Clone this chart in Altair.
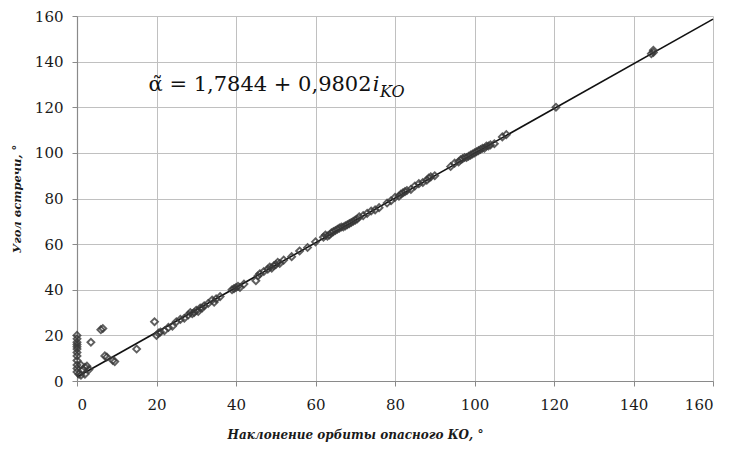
import altair as alt
import pandas as pd

# Inclination of the hazardous object's orbit, degrees
incl = [
    0, 0, 0, 0, 0, 0, 0, 0, 0, 0, 0, 0, 0.5, 1, 1.5, 2, 2.5, 3, 1, 2,
    3.5, 6.5, 6, 7, 7.5, 9, 9.5, 15,
    19.5, 20, 20.5, 21, 22, 23, 24, 25, 26, 27, 28, 28.5, 29, 29.5, 30, 30.5,
    31, 31.5, 32, 33, 34, 34.5, 35, 36,
    39, 39.5, 40, 40.5, 41, 42,
    45, 45.5, 46, 47, 48, 48.5, 49, 49.5, 50, 50.5, 51, 52, 54, 56, 58, 60,
    62, 62.5, 63, 63.5, 64, 64.5, 65, 65.5, 66, 66.5, 67, 67.5, 68, 68.5,
    69, 69.5, 70, 70.5, 71, 72, 73, 74, 75, 76,
    78, 79, 80, 81, 81.5, 82, 82.5, 83, 84, 85, 86, 87, 88, 88.5, 89, 90,
    94, 95, 96, 96.5, 97, 97.5, 98, 98.5, 99, 99.5, 100, 100.5, 101, 101.5,
    102, 102.5, 103, 103.5, 104, 105,
    107, 108, 120.5, 144.5, 145, 145,
]
# Encounter angle, degrees
angle = [
    20, 18.5, 17, 16, 15, 14, 12.5, 11, 9, 7, 5.5, 4, 3, 2.5, 5, 6, 6.5, 5, 7, 3,
    17, 23, 22.5, 11, 10.5, 9, 8.5, 14,
    26, 20, 21, 21.5, 22, 23.5, 24, 26, 27, 27.5, 29, 30, 29.5, 30, 31, 30.5,
    32, 32, 33, 34, 35.5, 34.5, 36, 37,
    40, 40.5, 41, 41.5, 41, 42.5,
    44, 46, 47, 48, 49, 50, 49.5, 50.5, 51, 52, 51.5, 53, 54.5, 57, 58.5, 61,
    63, 64, 63.5, 64, 65, 65.5, 66, 66.5, 67, 67.5, 67.5, 68, 68.5, 69,
    69.5, 70, 70.5, 71, 72, 72.5, 73.5, 74.5, 75, 76,
    78, 79, 80.5, 81, 82, 82.5, 83, 83.5, 84, 85.5, 86.5, 87, 88, 89, 89.5, 90,
    94, 95.5, 96, 97, 97.5, 98, 98, 98.5, 99, 99.5, 100, 100.5, 101, 101.5,
    102, 102, 103, 103, 103.5, 104,
    107, 108, 120, 143.5, 144, 145,
]

# Fitted regression coefficients
intercept = 1.7844
slope = 0.9802
fit_x = [0, 160]

ticks = [0, 20, 40, 60, 80, 100, 120, 140, 160]

points = pd.DataFrame({"i": incl, "a": angle})
fit = pd.DataFrame({"i": fit_x, "a": [intercept + slope * v for v in fit_x]})

SERIF = "DejaVu Serif"

x_enc = alt.X(
    "i:Q",
    scale=alt.Scale(domain=[0, 160], nice=False, zero=False),
    axis=alt.Axis(values=ticks, title="Наклонение орбиты опасного КО, °",
                  titleX=278, titleAlign="center"),
)
y_enc = alt.Y(
    "a:Q",
    scale=alt.Scale(domain=[0, 160], nice=False, zero=False),
    axis=alt.Axis(values=ticks, title="Угол встречи, °"),
)

dots = alt.Chart(points).mark_point(
    shape="diamond", filled=False, color="#383838", size=48, strokeWidth=1.9, opacity=0.8
).encode(x=x_enc, y=y_enc)

line = alt.Chart(fit).mark_line(color="#111111", strokeWidth=1.6).encode(
    x="i:Q", y="a:Q"
)

# Regression equation label, placed in data coordinates
eq_y = 127
eq_main = alt.Chart(pd.DataFrame({
    "i": [18.0], "a": [eq_y], "t": ["α\u0303 = 1,7844 + 0,9802"],
})).mark_text(
    font=SERIF, fontSize=21, align="left", baseline="alphabetic", color="#111111"
).encode(x="i:Q", y="a:Q", text="t:N")
eq_i = alt.Chart(pd.DataFrame({"i": [74.4], "a": [eq_y], "t": ["i"]})).mark_text(
    font=SERIF, fontSize=21, fontStyle="italic", align="left",
    baseline="alphabetic", color="#111111"
).encode(x="i:Q", y="a:Q", text="t:N")
eq_sub = alt.Chart(pd.DataFrame({"i": [76.2], "a": [eq_y - 2.6], "t": ["KO"]})).mark_text(
    font=SERIF, fontSize=16, fontStyle="italic", align="left",
    baseline="alphabetic", color="#111111"
).encode(x="i:Q", y="a:Q", text="t:N")

chart = (
    alt.layer(line, dots, eq_main, eq_i, eq_sub)
    .properties(
        width=636,
        height=365,
        autosize=alt.AutoSizeParams(type="none"),
        padding={"left": 77, "top": 16, "right": 16, "bottom": 74},
        background="white",
    )
    .configure_view(stroke=None)
    .configure_axis(
        grid=True,
        gridColor="#c0c0c0",
        gridWidth=1,
        domainColor="#8a8a8a",
        domainWidth=1.2,
        tickColor="#8a8a8a",
        tickSize=5,
        labelFont=SERIF,
        labelFontSize=15,
        labelColor="#1a1a1a",
        titleFont=SERIF,
        titleFontWeight="bold",
        titleFontStyle="italic",
        titleColor="#1a1a1a",
    )
    .configure_axisX(labelPadding=11, titlePadding=17, titleFontSize=12)
    .configure_axisY(labelPadding=9, titlePadding=12, titleFontSize=11.5)
)

chart.save("out.html", embed_options={"renderer": "svg", "actions": False})
